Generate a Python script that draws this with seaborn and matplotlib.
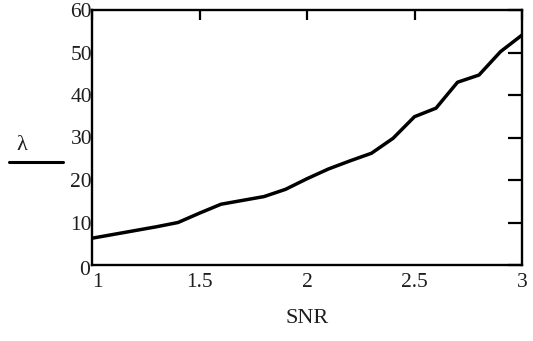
import matplotlib
matplotlib.use("Agg")
import matplotlib.pyplot as plt
import matplotlib.transforms as mtransforms
import seaborn as sns
import pandas as pd
from matplotlib.lines import Line2D

snr = [1.0, 1.1, 1.2, 1.3, 1.4, 1.5, 1.6, 1.7, 1.8, 1.9, 2.0,
       2.1, 2.2, 2.3, 2.4, 2.5, 2.6, 2.7, 2.8, 2.9, 3.0]
lam = [6.3, 7.2, 8.1, 9.0, 10.0, 12.2, 14.3, 15.2, 16.1, 17.8, 20.3,
       22.6, 24.5, 26.3, 29.8, 34.9, 36.9, 43.0, 44.7, 50.2, 54.1]
x_ticks = [1, 1.5, 2, 2.5, 3]
x_tick_labels = ["1", "1.5", "2", "2.5", "3"]
y_ticks = [0, 10, 20, 30, 40, 50, 60]
y_tick_labels = ["0", "10", "20", "30", "40", "50", "60"]

df = pd.DataFrame({"SNR": snr, "lam": lam})

sns.set_style("white")
plt.rcParams["font.family"] = ["Liberation Serif", "DejaVu Serif"]

fig = plt.figure(figsize=(5.33, 3.41), dpi=100)
ax = fig.add_axes([92 / 533, 1 - 265 / 341, 430 / 533, 255 / 341])

sns.lineplot(data=df, x="SNR", y="lam", ax=ax, color="black", linewidth=2.5)

ax.set_xlim(1, 3)
ax.set_ylim(0, 60)
ax.set_xticks(x_ticks)
ax.set_xticklabels(x_tick_labels)
ax.set_yticks(y_ticks)
ax.set_yticklabels(y_tick_labels)
ax.tick_params(axis="both", direction="in", color="black", labelsize=15.5,
               width=1.6, top=True, right=True, labelcolor="#1e1e1e")
ax.tick_params(axis="y", length=10, pad=0)
ax.tick_params(axis="x", length=7, pad=6)

# small nudges like the reference: "0" slightly below-left, "1" slightly right
ylab0 = ax.get_yticklabels()[0]
ylab0.set_transform(ylab0.get_transform() +
                    mtransforms.ScaledTranslation(-2 / 100, -3 / 100, fig.dpi_scale_trans))
xlab0 = ax.get_xticklabels()[0]
xlab0.set_transform(xlab0.get_transform() +
                    mtransforms.ScaledTranslation(5 / 100, 0, fig.dpi_scale_trans))

for s in ax.spines.values():
    s.set_color("black")
    s.set_linewidth(1.7)
ax.set_xlabel("SNR", fontsize=16, color="#1e1e1e", labelpad=12)
ax.set_ylabel("")

fig.text(22 / 533, 1 - 145 / 341, "λ", fontsize=16, ha="center", va="center",
         color="#1e1e1e")
fig.add_artist(Line2D([9 / 533, 63 / 533], [1 - 162 / 341, 1 - 162 / 341],
                      transform=fig.transFigure, color="black", linewidth=2.2))

fig.savefig("out.png", dpi=100, facecolor="white")
